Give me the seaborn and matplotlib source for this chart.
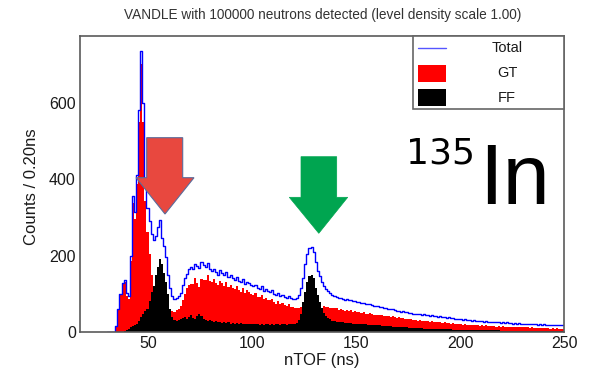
import numpy as np
import pandas as pd
import matplotlib
matplotlib.use("Agg")
import matplotlib.pyplot as plt
import seaborn as sns
from matplotlib.patches import Polygon, Rectangle
from matplotlib.lines import Line2D
from matplotlib.ticker import MultipleLocator

# ---------------- data (counts per bin, 1 ns bins starting at 30 ns) ----------------
bin_start = 30.0
bin_width = 1.0

total = [
    0, 0, 0, 0, 15, 60, 100, 128, 136, 102,
    95, 200, 355, 315, 410, 580, 735, 600, 400, 325,
    290, 255, 240, 252, 275, 293, 246, 226, 196, 150,
    115, 95, 85, 88, 93, 102, 122, 140, 152, 165,
    170, 164, 178, 172, 168, 184, 175, 171, 180, 166,
    160, 166, 158, 150, 162, 154, 148, 156, 144, 148,
    140, 136, 144, 134, 130, 138, 126, 131, 128, 122,
    120, 124, 116, 112, 119, 108, 112, 106, 104, 109,
    100, 97, 103, 95, 98, 92, 90, 95, 88, 87,
    85, 89, 96, 116, 142, 178, 204, 220, 222, 208,
    182, 160, 146, 130, 121, 112, 106, 101, 98, 94,
    92, 88, 90, 87, 84, 86, 83, 84, 80, 81,
    79, 78, 75, 77, 73, 72, 74, 70, 69, 68,
    67, 65, 66, 62, 63, 61, 59, 60, 57, 56,
    55, 53, 54, 51, 51, 49, 50, 47, 48, 46,
    47, 45, 46, 44, 45, 42, 44, 41, 42, 40,
    41, 39, 40, 37, 38, 36, 37, 34, 35, 33,
    34, 32, 33, 31, 32, 30, 31, 29, 30, 28,
    29, 27, 28, 27, 27, 26, 27, 25, 26, 24,
    25, 24, 25, 23, 24, 22, 23, 22, 23, 21,
    22, 21, 22, 20, 21, 20, 21, 19, 20, 19,
    20, 18, 19, 18, 19, 17, 18, 17, 18, 17,
]

gt = [
    0, 0, 0, 0, 15, 58, 96, 125, 130, 95,
    86, 186, 338, 296, 388, 550, 700, 550, 342, 262,
    205, 148, 118, 100, 102, 100, 68, 70, 64, 50,
    54, 55, 52, 57, 61, 68, 84, 100, 115, 124,
    126, 125, 140, 128, 118, 139, 137, 136, 148, 133,
    130, 138, 127, 123, 133, 128, 120, 131, 117, 124,
    114, 112, 119, 111, 105, 115, 102, 109, 104, 100,
    97, 102, 92, 91, 96, 87, 89, 84, 83, 86,
    79, 74, 81, 74, 75, 70, 69, 72, 66, 65,
    62, 63, 62, 66, 62, 70, 72, 70, 70, 66,
    64, 62, 66, 64, 68, 66, 65, 64, 64, 62,
    62, 58, 61, 58, 56, 58, 55, 57, 53, 54,
    53, 52, 50, 52, 48, 48, 50, 46, 45, 45,
    45, 44, 45, 41, 43, 41, 39, 41, 38, 37,
    38, 36, 37, 34, 35, 33, 34, 31, 32, 30,
    31, 29, 30, 28, 29, 27, 28, 26, 27, 25,
    26, 24, 25, 23, 24, 22, 23, 21, 22, 20,
    21, 19, 20, 18, 19, 18, 18, 17, 18, 16,
    17, 16, 17, 15, 16, 15, 16, 14, 15, 14,
    15, 14, 14, 13, 14, 13, 13, 12, 13, 12,
    13, 12, 12, 11, 12, 11, 11, 10, 11, 10,
    11, 10, 10, 9, 10, 9, 10, 9, 9, 8,
]

ff = [
    0, 0, 0, 0, 0, 0, 0, 0, 3, 5,
    8, 12, 15, 18, 20, 28, 40, 48, 55, 60,
    80, 105, 120, 150, 170, 190, 178, 155, 130, 100,
    60, 40, 32, 30, 31, 33, 36, 38, 34, 40,
    44, 37, 35, 41, 48, 42, 35, 32, 30, 31,
    28, 26, 29, 25, 27, 24, 26, 23, 25, 22,
    24, 22, 23, 21, 23, 21, 22, 20, 22, 20,
    21, 20, 22, 19, 21, 19, 21, 20, 19, 21,
    19, 21, 20, 19, 21, 20, 19, 21, 20, 20,
    21, 24, 32, 48, 78, 105, 130, 147, 150, 140,
    116, 96, 78, 62, 50, 42, 37, 33, 30, 28,
    27, 26, 25, 25, 24, 24, 23, 23, 22, 22,
    22, 21, 21, 20, 20, 19, 19, 18, 18, 18,
    17, 17, 16, 16, 15, 15, 15, 14, 14, 13,
    13, 13, 12, 12, 12, 11, 11, 11, 10, 10,
    10, 10, 9, 9, 9, 9, 8, 8, 8, 8,
    8, 7, 7, 7, 7, 7, 6, 6, 6, 6,
    6, 6, 5, 5, 5, 5, 5, 5, 5, 4,
    4, 4, 4, 4, 4, 4, 4, 4, 4, 3,
    3, 3, 3, 3, 3, 3, 3, 3, 3, 3,
    3, 3, 3, 2, 2, 2, 2, 2, 2, 2,
    2, 2, 2, 2, 2, 2, 2, 2, 2, 2,
]

series_labels = ["Total", "GT", "FF"]
title = "VANDLE with 100000 neutrons detected (level density scale 1.00)"
xlabel = "nTOF (ns)"
ylabel = "Counts / 0.20ns"
x_ticks = [50, 100, 150, 200, 250]
y_ticks = [0, 200, 400, 600]

# ---------------- figure ----------------
sns.set_theme(style="white")
plt.rcParams['font.family'] = ['Liberation Sans', 'DejaVu Sans']

W, H = 592, 371
fig = plt.figure(figsize=(W / 100, H / 100), dpi=100)
fig.patch.set_facecolor("white")


def fx(px):
    return px / W


def fy(py):
    return 1 - py / H


ax = fig.add_axes([fx(80), fy(332), fx(564) - fx(80), fy(36) - fy(332)])

n = len(total)
edges = [float(bin_start + bin_width * i) for i in range(n + 1)]
centers = [bin_start + bin_width * (i + 0.5) for i in range(n)]
df = pd.DataFrame({"t": centers, "total": total, "gt": gt, "ff": ff})

sns.histplot(data=df, x="t", weights="gt", bins=edges, element="step", fill=True,
             color="#ff0000", alpha=1, linewidth=0, ax=ax)
sns.histplot(data=df, x="t", weights="ff", bins=edges, element="step", fill=True,
             color="#000000", alpha=1, linewidth=0, ax=ax)
sns.histplot(data=df, x="t", weights="total", bins=edges, element="step", fill=False,
             color="#0000ff", linewidth=1.0, ax=ax)

ax.set_xlim(17, 250)
ax.set_ylim(0, 774)
ax.set_xlabel("")
ax.set_ylabel("")
ax.set_xticks(x_ticks)
ax.set_yticks(y_ticks)
ax.xaxis.set_minor_locator(MultipleLocator(10))
ax.yaxis.set_minor_locator(MultipleLocator(50))
frame_col = "#5a5a5a"
for s in ax.spines.values():
    s.set_color(frame_col)
    s.set_linewidth(1.2)
ax.tick_params(axis="both", which="both", direction="in", colors=frame_col,
               labelcolor="#1a1a1a", labelsize=11.5, width=1.0)
ax.tick_params(axis="y", which="major", length=11, pad=3)
ax.tick_params(axis="y", which="minor", length=5.5)
ax.tick_params(axis="x", which="major", length=8, pad=3)
ax.tick_params(axis="x", which="minor", length=4)
ax.set_facecolor("white")

fig.text(fx(323), fy(15), title, ha="center", va="center", fontsize=9.8, color="#333333")
fig.text(fx(322), fy(361), xlabel, ha="center", va="center", fontsize=12, color="#1a1a1a")
fig.text(fx(31), fy(187), ylabel, ha="center", va="center", fontsize=12,
         rotation=90, color="#1a1a1a")

# ---------------- legend box (ROOT style) ----------------
tf = fig.transFigure
fig.patches.append(Rectangle((fx(413), fy(109)), fx(564) - fx(413), fy(36) - fy(109),
                             transform=tf, facecolor="white", edgecolor="#666666",
                             linewidth=1.2, zorder=5))
fig.lines.append(Line2D([fx(418), fx(446)], [fy(48), fy(48)], transform=tf,
                        color="#5555ff", linewidth=1.0, zorder=6))
fig.patches.append(Rectangle((fx(418), fy(82)), fx(446) - fx(418), fy(65) - fy(82),
                             transform=tf, facecolor="#ff0000", edgecolor="none", zorder=6))
fig.patches.append(Rectangle((fx(418), fy(106)), fx(446) - fx(418), fy(89) - fy(106),
                             transform=tf, facecolor="#000000", edgecolor="none", zorder=6))
for lab, yy in zip(series_labels, [48, 73, 98]):
    fig.text(fx(507), fy(yy), lab, ha="center", va="center", fontsize=10.5,
             color="#1a1a1a", zorder=7)

# ---------------- annotation arrows ----------------
def arrow(xl, xr, ytop, yshaft, hl, hr, tipx, tipy, fc, ec, lw):
    pts = [(xl, ytop), (xr, ytop), (xr, yshaft), (hr, yshaft), (tipx, tipy),
           (hl, yshaft), (xl, yshaft)]
    poly = Polygon([(fx(a), fy(b)) for a, b in pts], closed=True, transform=tf,
                   facecolor=fc, edgecolor=ec, linewidth=lw, zorder=8)
    fig.patches.append(poly)


arrow(146.7, 182.7, 137.7, 177.7, 136, 194, 165, 214, "#e8483f", "#5b6b9a", 0.8)
arrow(301, 336.7, 156.7, 197.3, 289.3, 347.7, 318.8, 233.3, "#00a550", "#00a550", 0.5)

# ---------------- isotope label ----------------
fig.text(fx(406), fy(164), "135", ha="left", va="baseline", fontsize=26,
         family=["DejaVu Sans"], color="black")
fig.text(fx(479), fy(204), "In", ha="left", va="baseline", fontsize=61,
         color="black")

fig.savefig("out.png", dpi=100, facecolor="white")
